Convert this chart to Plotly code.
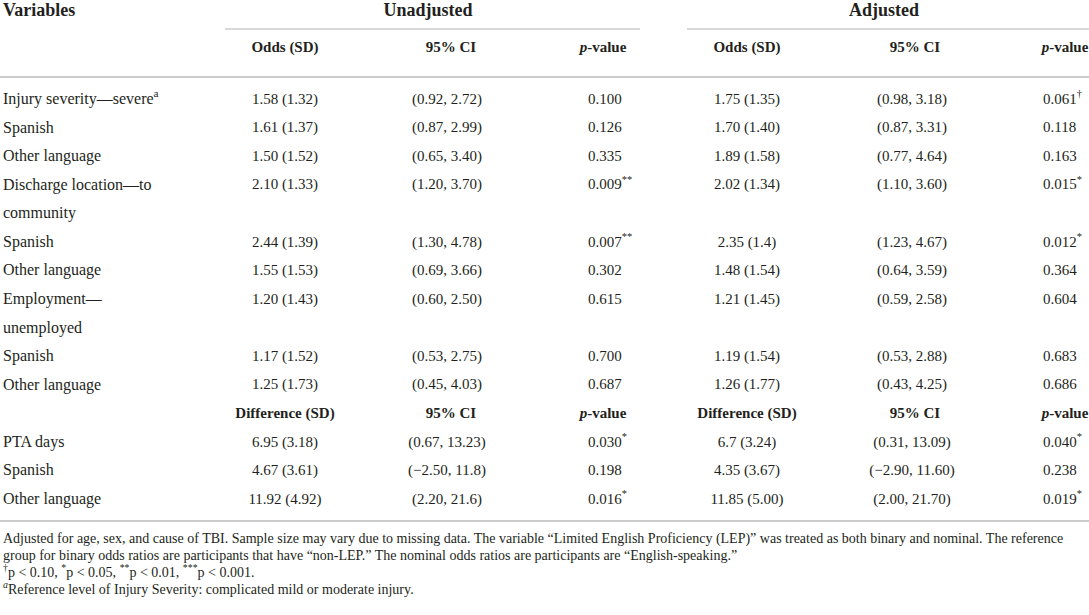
import plotly.graph_objects as go

# ---- table contents ----
odds_rows = ["Injury severity—severe<sup>a</sup>", "Spanish", "Other language",
             "Discharge location—to<br>community", "Spanish", "Other language",
             "Employment—<br>unemployed", "Spanish", "Other language"]
unadj_odds = ["1.58 (1.32)", "1.61 (1.37)", "1.50 (1.52)", "2.10 (1.33)", "2.44 (1.39)",
              "1.55 (1.53)", "1.20 (1.43)", "1.17 (1.52)", "1.25 (1.73)"]
unadj_ci = ["(0.92, 2.72)", "(0.87, 2.99)", "(0.65, 3.40)", "(1.20, 3.70)", "(1.30, 4.78)",
            "(0.69, 3.66)", "(0.60, 2.50)", "(0.53, 2.75)", "(0.45, 4.03)"]
unadj_p = ["0.100", "0.126", "0.335", "0.009<sup>**</sup>", "0.007<sup>**</sup>",
           "0.302", "0.615", "0.700", "0.687"]
adj_odds = ["1.75 (1.35)", "1.70 (1.40)", "1.89 (1.58)", "2.02 (1.34)", "2.35 (1.4)",
            "1.48 (1.54)", "1.21 (1.45)", "1.19 (1.54)", "1.26 (1.77)"]
adj_ci = ["(0.98, 3.18)", "(0.87, 3.31)", "(0.77, 4.64)", "(1.10, 3.60)", "(1.23, 4.67)",
          "(0.64, 3.59)", "(0.59, 2.58)", "(0.53, 2.88)", "(0.43, 4.25)"]
adj_p = ["0.061<sup>†</sup>", "0.118", "0.163", "0.015<sup>*</sup>", "0.012<sup>*</sup>",
         "0.364", "0.604", "0.683", "0.686"]

diff_rows = ["PTA days", "Spanish", "Other language"]
unadj_diff = ["6.95 (3.18)", "4.67 (3.61)", "11.92 (4.92)"]
unadj_diff_ci = ["(0.67, 13.23)", "(−2.50, 11.8)", "(2.20, 21.6)"]
unadj_diff_p = ["0.030<sup>*</sup>", "0.198", "0.016<sup>*</sup>"]
adj_diff = ["6.7 (3.24)", "4.35 (3.67)", "11.85 (5.00)"]
adj_diff_ci = ["(0.31, 13.09)", "(−2.90, 11.60)", "(2.00, 21.70)"]
adj_diff_p = ["0.040<sup>*</sup>", "0.238", "0.019<sup>*</sup>"]

odds_header = ["Odds (SD)", "95% CI", "<i>p</i>-value"]
diff_header = ["Difference (SD)", "95% CI", "<i>p</i>-value"]
groups = ["Unadjusted", "Adjusted"]

footnotes = [
    "Adjusted for age, sex, and cause of TBI. Sample size may vary due to missing data. "
    "The variable “Limited English Proficiency (LEP)” was treated as both binary and nominal. The reference",
    "group for binary odds ratios are participants that have “non-LEP.” "
    "The nominal odds ratios are participants are “English-speaking.”",
    "<sup>†</sup>p &lt; 0.10, <sup>*</sup>p &lt; 0.05, <sup>**</sup>p &lt; 0.01, <sup>***</sup>p &lt; 0.001.",
    "<i><sup>a</sup></i>Reference level of Injury Severity: complicated mild or moderate injury.",
]

# ---- page layout (pixels) ----
W, H = 1089, 615
FONT = "Liberation Serif"
INK = "#231f20"
RULE = "#cccccc"
label_x = 3
cell_x = [285, 447, 588, 747, 912, 1043]
cell_pos = ["middle center", "middle center", "middle right",
            "middle center", "middle center", "middle right"]
head_x = [285, 451, 603, 747, 915, 1065]
group_x = [428, 884]
top_y = 11
sub_y = 48
first_row_y = 100
row_step = 28.57
rule_y = 521
foot_y = [539, 556, 573, 590]

# flatten rows into printed lines (wrapped labels take their own line)
lines = []
for i, lab in enumerate(odds_rows):
    parts = lab.split("<br>")
    lines.append((parts[0], [unadj_odds[i], unadj_ci[i], unadj_p[i],
                             adj_odds[i], adj_ci[i], adj_p[i]]))
    for extra in parts[1:]:
        lines.append((extra, None))
diff_line = len(lines)
lines.append((None, None))
for i, lab in enumerate(diff_rows):
    lines.append((lab, [unadj_diff[i], unadj_diff_ci[i], unadj_diff_p[i],
                        adj_diff[i], adj_diff_ci[i], adj_diff_p[i]]))

ys = [first_row_y + k * row_step for k in range(len(lines))]

fig = go.Figure()


def text_trace(x, y, text, pos, size, bold=False):
    if bold:
        text = ["<b>%s</b>" % t for t in text]
    return go.Scatter(x=x, y=y, mode="text", text=text, textposition=pos,
                      textfont=dict(family=FONT, size=size, color=INK),
                      cliponaxis=False, hoverinfo="skip")


# labels column
lab_y = [y for y, l in zip(ys, lines) if l[0]]
lab_t = [l[0] for l in lines if l[0]]
fig.add_trace(text_trace([label_x] * len(lab_t), lab_y, lab_t, "middle right", 16))

# value columns
for j in range(6):
    vy = [y for y, l in zip(ys, lines) if l[1]]
    vt = [l[1][j] for l in lines if l[1]]
    fig.add_trace(text_trace([cell_x[j]] * len(vt), vy, vt, cell_pos[j], 15))

# column headers (top and difference section)
head_rows = [sub_y, ys[diff_line]]
for j in range(6):
    fig.add_trace(text_trace([head_x[j]] * 2, head_rows,
                             [(odds_header * 2)[j], (diff_header * 2)[j]],
                             "middle center", 15, bold=True))

# top header
fig.add_trace(text_trace([label_x], [top_y], ["Variables"], "middle right", 18, bold=True))
fig.add_trace(text_trace(group_x, [top_y] * 2, groups, "middle center", 18, bold=True))

# footnotes
fig.add_trace(text_trace([label_x] * len(footnotes), foot_y, footnotes, "middle right", 14))

# horizontal rules
rules = [(225, 640, 29, 1.5), (687, W, 29, 1.5), (0, W, 77, 2), (0, W, rule_y, 2)]
for x0, x1, y, w in rules:
    fig.add_shape(type="line", x0=x0, x1=x1, y0=y, y1=y, xref="x", yref="y",
                  line=dict(color=RULE, width=w))

fig.update_layout(
    width=W, height=H,
    margin=dict(l=0, r=0, t=0, b=0),
    paper_bgcolor="white", plot_bgcolor="white",
    showlegend=False,
    xaxis=dict(range=[0, W], visible=False, fixedrange=True),
    yaxis=dict(range=[H, 0], visible=False, fixedrange=True),
)

fig.write_html("out.html", config={"displayModeBar": False},
               post_script="document.body.style.margin='0';document.body.style.overflow='hidden';")
